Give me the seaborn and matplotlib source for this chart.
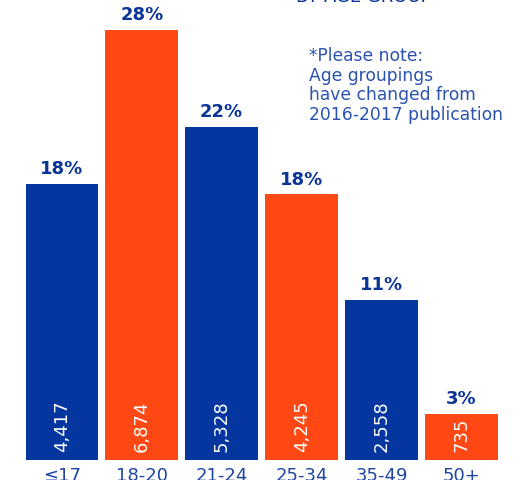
import seaborn as sns
import pandas as pd
import matplotlib.pyplot as plt

# Data
age_groups = ['≤17', '18-20', '21-24', '25-34', '35-49', '50+']
counts = [4417, 6874, 5328, 4245, 2558, 735]
percents = [18, 28, 22, 18, 11, 3]

BLUE = '#0536A0'
ORANGE = '#FF4814'
bar_colors = [BLUE, ORANGE, BLUE, ORANGE, BLUE, ORANGE]

df = pd.DataFrame({'group': age_groups, 'count': counts})

sns.set_theme(style='white')
plt.rcParams['font.family'] = ['DejaVu Sans']

fig = plt.figure(figsize=(5.31, 4.81), dpi=100)
ax = fig.add_axes([0.0414, 0.0416, 0.9026, 0.9584])

sns.barplot(data=df, x='group', y='count', hue='group', palette=bar_colors,
            width=0.91, saturation=1, linewidth=0, legend=False, ax=ax)

ax.set_xlim(-0.5, 5.5)
ax.set_ylim(0, 7370)
sns.despine(ax=ax, left=True, bottom=True)
ax.set_yticks([])
ax.set_xlabel('')
ax.set_ylabel('')
ax.tick_params(axis='x', length=0, pad=4, labelsize=13, labelcolor='#1E45A6')

# percent labels above bars, counts inside bars
for i, (c, p) in enumerate(zip(counts, percents)):
    ax.annotate(f'{p}%', xy=(i, c), xytext=(0, 5), textcoords='offset points',
                ha='center', va='bottom', fontsize=13, fontweight='bold',
                color='#0A3596')
    ax.annotate(f'{c:,}', xy=(i, 0), xytext=(0, 6.5), textcoords='offset points',
                ha='center', va='bottom', rotation=90, fontsize=13,
                color='white')

# note text in the upper right
fig.text(309 / 531, 1 - 47 / 481,
         '*Please note:\nAge groupings\nhave changed from\n2016-2017 publication',
         ha='left', va='top', fontsize=12.3, color='#2A52AE', linespacing=1.12)

# title mostly cropped off at the top
fig.text(364 / 531, 1 - 2.5 / 481, 'BY AGE GROUP', ha='center', va='baseline',
         fontsize=13, color='#0A3596')

fig.savefig('out.png', dpi=100)
